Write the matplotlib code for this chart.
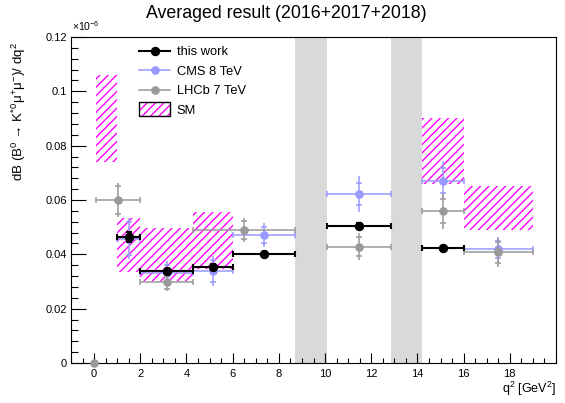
import numpy as np
import matplotlib
matplotlib.use("Agg")
from matplotlib import pyplot as plt
import matplotlib.patches as mpatches
from matplotlib.legend_handler import HandlerPatch
from matplotlib.ticker import MultipleLocator

plt.rcParams['font.family'] = ['Liberation Sans', 'DejaVu Sans']
plt.rcParams['mathtext.fontset'] = 'custom'
plt.rcParams['mathtext.rm'] = 'Liberation Sans'
plt.rcParams['mathtext.it'] = 'Liberation Sans'
plt.rcParams['hatch.linewidth'] = 1.0

# q2 bins and values (units of 1e-6)
tw_lo = [1, 2, 4.3, 6, 10.09, 14.18]
tw_hi = [2, 4.3, 6, 8.68, 12.86, 16]
tw_y = [0.0465, 0.0337, 0.0355, 0.0401, 0.0505, 0.0423]
tw_err = [0.0018, 0.0010, 0.0010, 0.0008, 0.0010, 0.0008]

cms_lo = [1, 2, 4.3, 6, 10.09, 14.18, 16]
cms_hi = [2, 4.3, 6, 8.68, 12.86, 16, 19]
cms_y = [0.0458, 0.0330, 0.0340, 0.0471, 0.0621, 0.0671, 0.0418]
cms_err = [0.0075, 0.0045, 0.0055, 0.0043, 0.0066, 0.0072, 0.0045]
cms_stat = [0.0060, 0.0030, 0.0040, 0.0030, 0.0040, 0.0045, 0.0030]

lhcb_lo = [0.1, 2, 4.3, 10.09, 14.18, 16]
lhcb_hi = [2, 4.3, 8.68, 12.86, 16, 19]
lhcb_y = [0.0600, 0.0297, 0.0490, 0.0428, 0.0560, 0.0407]
lhcb_err = [0.0062, 0.0032, 0.0045, 0.0050, 0.0065, 0.0052]
lhcb_stat = [0.0050, 0.0025, 0.0033, 0.0035, 0.0045, 0.0038]

sm_lo_x = [0.1, 1, 2, 4.3, 14.18, 16]
sm_hi_x = [1, 2, 4.3, 6, 16, 19]
sm_lo = [0.0740, 0.0336, 0.0303, 0.0345, 0.0659, 0.0490]
sm_hi = [0.1060, 0.0535, 0.0497, 0.0557, 0.0903, 0.0653]

vetoes = [(8.68, 10.09), (12.86, 14.18)]

fig = plt.figure(figsize=(5.65, 4.03), dpi=100)
ax = fig.add_axes([71/565, 40/403, 485/565, 326/403])

for a, b in vetoes:
    ax.axvspan(a, b, color='#d9d9d9', lw=0, zorder=0)

sm_w = np.array(sm_hi_x) - np.array(sm_lo_x)
ax.bar(sm_lo_x, np.array(sm_hi) - np.array(sm_lo), width=sm_w, bottom=sm_lo, align='edge',
       fill=False, hatch='////', edgecolor='magenta', lw=0, zorder=1)


def draw(lo, hi, y, err, stat, col, lw, ms, z):
    lo = np.array(lo)
    hi = np.array(hi)
    x = (lo + hi) / 2
    xe = (hi - lo) / 2
    ax.errorbar(x, y, xerr=xe, fmt='none', ecolor=col, elinewidth=lw, capsize=2, capthick=lw, zorder=z)
    ax.errorbar(x, y, yerr=err, fmt='none', ecolor=col, elinewidth=lw, capsize=0, zorder=z)
    ax.errorbar(x, y, yerr=stat, fmt='none', ecolor=col, elinewidth=0, capsize=2, capthick=lw, zorder=z)
    ax.plot(x, y, 'o', color=col, ms=ms, zorder=z + 0.1)


draw(cms_lo, cms_hi, cms_y, cms_err, cms_stat, '#9999ff', 1.1, 5.2, 3)
draw(lhcb_lo, lhcb_hi, lhcb_y, lhcb_err, lhcb_stat, '#999999', 1.1, 5.2, 4)
draw(tw_lo, tw_hi, tw_y, tw_err, tw_err, 'black', 1.5, 5.8, 5)
ax.plot([0], [0], 'o', color='#999999', ms=5.2, zorder=4, clip_on=False)

ax.set_xlim(-1, 20)
ax.set_ylim(0, 0.12)
ax.set_xticks(np.arange(0, 19, 2))
ax.xaxis.set_minor_locator(MultipleLocator(0.5))
ax.yaxis.set_minor_locator(MultipleLocator(0.004))
ax.set_yticks([0, 0.02, 0.04, 0.06, 0.08, 0.1, 0.12])
ax.set_yticklabels(['0', '0.02', '0.04', '0.06', '0.08', '0.1', '0.12'])
ax.tick_params(axis='x', which='major', direction='in', length=7, width=0.8, labelsize=8, pad=4)
ax.tick_params(axis='x', which='minor', direction='in', length=3.6, width=0.8)
ax.tick_params(axis='y', which='major', direction='in', length=10.5, width=0.8, labelsize=8, pad=3)
ax.tick_params(axis='y', which='minor', direction='in', length=5.2, width=0.8)
for s in ax.spines.values():
    s.set_linewidth(0.8)

ax.set_xlabel('q$^{2}$ [GeV$^{2}$]', fontsize=9, loc='right', va='center')
ax.xaxis.set_label_coords(1.0, -0.08)
ax.set_ylabel('dB (B$^{0}$ → K$^{*0}$μ$^{+}$μ$^{-}$)/ dq$^{2}$', fontsize=9.6, loc='top', va='center')
ax.yaxis.set_label_coords(-0.107, 0.985)
fig.text(72/565, 1 - 31/403, r'$\times$10$^{-6}$', fontsize=7.5, va='baseline')
fig.text(286/565, 1 - 13/403, 'Averaged result (2016+2017+2018)', fontsize=12.8, ha='center', va='center')

# legend
h_tw = plt.Line2D([], [], color='black', lw=1.5, marker='o', ms=5.8)
h_cms = plt.Line2D([], [], color='#9999ff', lw=1.1, marker='o', ms=5.2)
h_lhcb = plt.Line2D([], [], color='#999999', lw=1.1, marker='o', ms=5.2)
h_sm = (mpatches.Patch(facecolor='none', edgecolor='magenta', hatch='////', lw=0),
        mpatches.Patch(facecolor='none', edgecolor='black', lw=1))


def tall_box(legend, orig_handle, xdescent, ydescent, width, height, fontsize):
    extra = 0.3 * height
    return mpatches.Rectangle((-xdescent, -ydescent - extra), width, height + 2 * extra)


leg = ax.legend([h_tw, h_cms, h_lhcb, h_sm], ['this work', 'CMS 8 TeV', 'LHCb 7 TeV', 'SM'],
                loc='upper left', bbox_to_anchor=(139/565, 1 - 46/403), bbox_transform=fig.transFigure,
                frameon=False, fontsize=9.3, handlelength=2.43, handletextpad=0.49,
                labelspacing=0.58, borderpad=0, borderaxespad=0,
                handler_map={mpatches.Patch: HandlerPatch(patch_func=tall_box)})

plt.savefig('out.png', dpi=100)
plt.close()
